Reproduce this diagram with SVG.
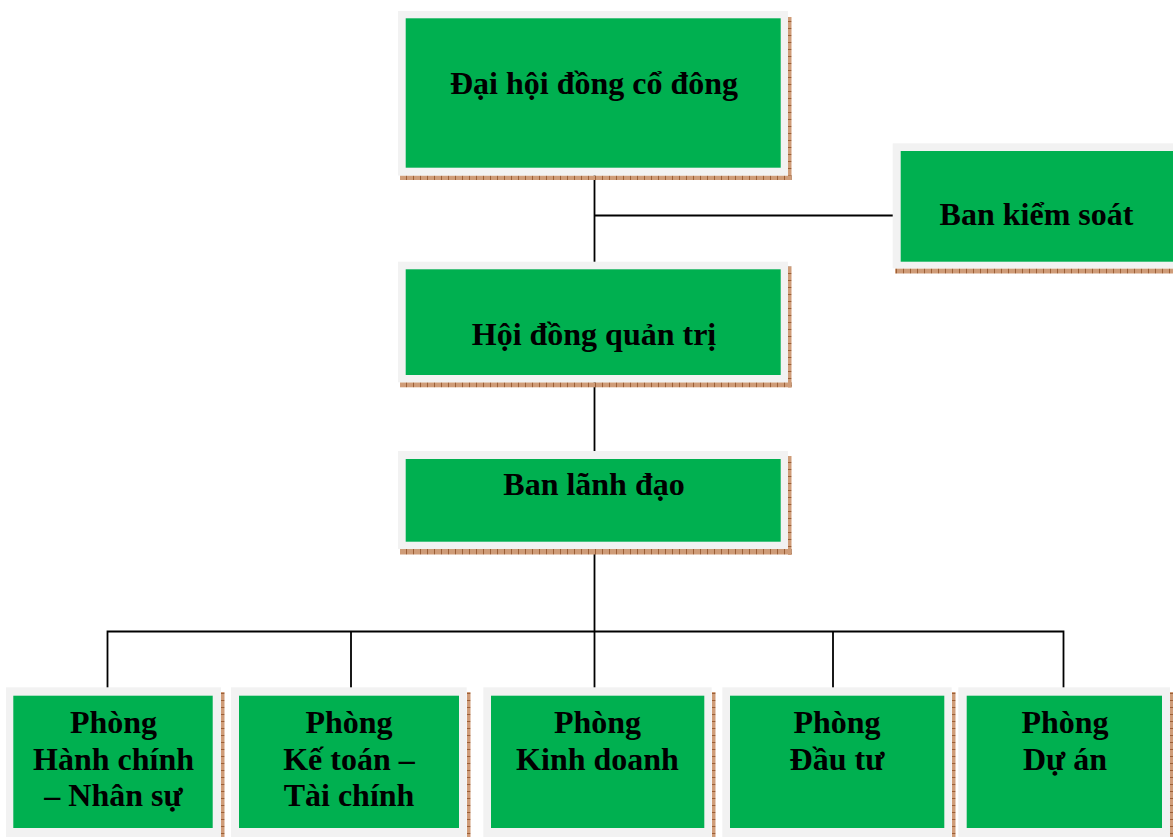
<svg xmlns="http://www.w3.org/2000/svg" width="1173" height="837" viewBox="0 0 1173 837">
<style>
.frame{fill:#f2f2f2}
.box{fill:#00b050}
.sh{fill:url(#hatchH)}
.sv{fill:url(#hatchV)}
.t{font-family:"Liberation Serif","Times New Roman",serif;font-weight:bold;font-size:32px;fill:#000;text-anchor:middle}
.c{stroke:#000;stroke-width:1.8;fill:none}
</style>
<defs>
<pattern id="hatchH" width="7" height="5" patternUnits="userSpaceOnUse">
<rect width="7" height="5" fill="#cf9c78"/>
<rect x="0" y="0" width="1" height="5" fill="#9c5f36"/>
</pattern>
<pattern id="hatchV" width="5" height="7" patternUnits="userSpaceOnUse">
<rect width="5" height="7" fill="#cf9c78"/>
<rect x="0" y="0" width="5" height="1" fill="#9c5f36"/>
</pattern>
</defs>
<g id="connectors">
<path class="c" d="M594.5 175V263"/>
<path class="c" d="M594.5 215.5H893"/>
<path class="c" d="M594.5 382V452"/>
<path class="c" d="M594.5 549V688"/>
<path class="c" d="M107.5 688V631.5H1063.5V688"/>
<path class="c" d="M351 631.5V688"/>
<path class="c" d="M833 631.5V688"/>
</g>
<g id="n-dhdcd">
<rect class="sv" x="788" y="17" width="3.5" height="163"/>
<rect class="sh" x="400" y="175.5" width="391.5" height="4.5"/>
<rect class="frame" x="398" y="11" width="390" height="164.5"/>
<rect class="box" x="405.7" y="18.3" width="375" height="149.4"/>
<text class="t" x="594" y="94">Đại hội đồng cổ đông</text>
</g>
<g id="n-bks">
<rect class="sh" x="895" y="268.5" width="278" height="5"/>
<rect class="frame" x="892.7" y="143.3" width="281" height="125"/>
<rect class="box" x="900.7" y="151" width="273" height="110.7"/>
<text class="t" x="1036.5" y="225">Ban kiểm soát</text>
</g>
<g id="n-hdqt">
<rect class="sv" x="788" y="266.5" width="3.5" height="121"/>
<rect class="sh" x="400" y="382.3" width="391.5" height="5"/>
<rect class="frame" x="398" y="261.7" width="390" height="120.6"/>
<rect class="box" x="405.7" y="269.3" width="375" height="105.7"/>
<text class="t" x="594" y="345">Hội đồng quản trị</text>
</g>
<g id="n-bld">
<rect class="sv" x="788" y="456" width="3.5" height="99"/>
<rect class="sh" x="400" y="549" width="391.5" height="5.5"/>
<rect class="frame" x="398" y="451" width="390" height="98"/>
<rect class="box" x="405.7" y="459" width="375" height="82.7"/>
<text class="t" x="594" y="495">Ban lãnh đạo</text>
</g>
<g id="n-hc">
<rect class="sv" x="221" y="692" width="3.5" height="145"/>
<rect class="frame" x="6" y="687.3" width="215" height="150"/>
<rect class="box" x="13.3" y="695.7" width="199.4" height="132.3"/>
<text class="t" x="113.5" y="733">Phòng</text>
<text class="t" x="113.5" y="770">Hành chính</text>
<text class="t" x="113.5" y="806">– Nhân sự</text>
</g>
<g id="n-kt">
<rect class="sv" x="467" y="692" width="3.5" height="145"/>
<rect class="frame" x="231" y="687.3" width="235.7" height="150"/>
<rect class="box" x="239" y="695.7" width="220" height="132.3"/>
<text class="t" x="349" y="733">Phòng</text>
<text class="t" x="349" y="770">Kế toán –</text>
<text class="t" x="349" y="806">Tài chính</text>
</g>
<g id="n-kd">
<rect class="sv" x="712" y="692" width="3.5" height="145"/>
<rect class="frame" x="483.3" y="687.3" width="228.4" height="150"/>
<rect class="box" x="491" y="695.7" width="213.3" height="132.3"/>
<text class="t" x="597.5" y="733">Phòng</text>
<text class="t" x="597.5" y="770">Kinh doanh</text>
</g>
<g id="n-dt">
<rect class="sv" x="952" y="692" width="3.5" height="145"/>
<rect class="frame" x="722.3" y="687.3" width="229.4" height="150"/>
<rect class="box" x="730" y="695.7" width="214.3" height="132.3"/>
<text class="t" x="837" y="733">Phòng</text>
<text class="t" x="837" y="770">Đầu tư</text>
</g>
<g id="n-da">
<rect class="sv" x="1170" y="692" width="3.5" height="145"/>
<rect class="frame" x="958.3" y="687.3" width="211.7" height="150"/>
<rect class="box" x="966.7" y="695.7" width="195.3" height="132.3"/>
<text class="t" x="1065" y="733">Phòng</text>
<text class="t" x="1065" y="770">Dự án</text>
</g>
</svg>
